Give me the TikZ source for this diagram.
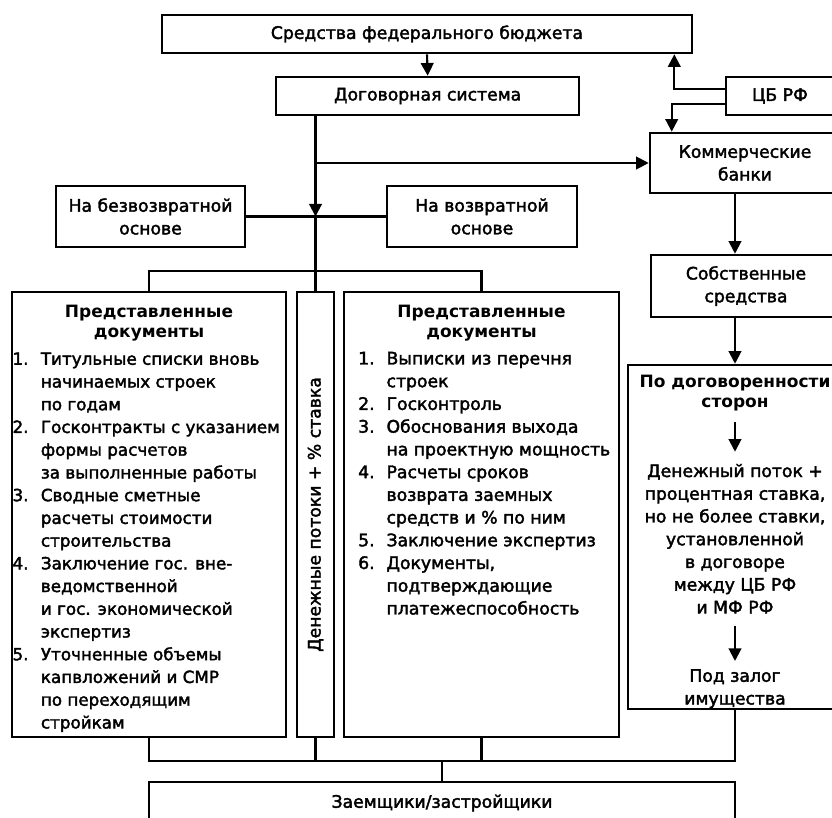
\documentclass[tikz,border=0pt]{standalone}
\usepackage{fontspec}
\setmainfont{DejaVu Sans}
\newfontfamily\fnmedium{DejaVu Sans}[FakeBold=2.2]
\usetikzlibrary{arrows.meta}
\usetikzlibrary{calc}
\newcommand{\fnfont}{\fontsize{14.7}{19.4}\selectfont\fnmedium}
\newcommand{\fnsmall}{\fontsize{14.3}{19.4}\selectfont\fnmedium}
\newcommand{\fnbold}{\fontsize{14.5}{17}\selectfont\bfseries}
\newcommand{\fnnum}[1]{\makebox[0.85cm][l]{#1}}
\newcommand{\fnind}{\hspace*{0.85cm}}
\tikzset{
  fnbox/.style={
    draw, line width=2.2pt, inner sep=0pt, align=center, font=\fnfont},
  fnline/.style={draw, line width=1.8pt},
  fnarrow/.style={fnline, -{Triangle[length=0.38cm, width=0.38cm]}},
  fnhead/.style={font=\fnbold, align=center, inner sep=0pt},
  fnlist/.style={font=\fnfont, align=left, inner sep=0pt, anchor=north west},
  fntext/.style={font=\fnfont, align=center, inner sep=0pt},
  fnstage/.style={fntext, inner ysep=0.36cm},
}

\begin{document}
\begin{tikzpicture}[x=1cm, y=1cm]
\useasboundingbox (0, 0) rectangle (24.96, -24.54);

% Upper row.
\node[fnbox, minimum width=15.9cm, minimum height=1.14cm]
  (budget) at (12.81, -1.02) {Средства федерального бюджета};
\node[fnbox, minimum width=9.09cm, minimum height=1.14cm]
  (contract) at (12.83, -2.88) {Договорная система};
\node[fnbox, minimum width=3.24cm, minimum height=1.14cm]
  (cbrf) at (23.4, -2.88) {ЦБ РФ};
\node[fnbox, minimum width=5.7cm, minimum height=1.8cm]
  (banks) at (22.35, -4.89) {Коммерческие\\банки};
\node[fnbox, minimum width=5.67cm, minimum height=1.83cm]
  (grant) at (4.515, -6.495) {На безвозвратной\\основе};
\node[fnbox, minimum width=5.7cm, minimum height=1.83cm]
  (loan) at (14.46, -6.495) {На возвратной\\основе};
\node[fnbox, minimum width=5.7cm, minimum height=1.86cm]
  (own) at (22.38, -8.58) {Собственные\\средства};

% Document columns.
\node[fnbox, minimum width=8.22cm, minimum height=13.35cm]
  (docsgrant) at (4.47, -15.435) {};
\node[fnbox, minimum width=1.11cm, minimum height=13.35cm]
  (flow) at (9.465, -15.435) {};
\node[fnbox, minimum width=8.25cm, minimum height=13.35cm]
  (docsloan) at (14.445, -15.435) {};
\node[fnbox, minimum width=6.42cm, minimum height=10.32cm]
  (terms) at (22.05, -16.11) {};

\node[fnhead] (docsgranttitle) at (4.47, -9.7)
  {Представленные\\документы};
\node[fnlist, font=\fnsmall] (docsgrantlist) at (0.37, -10.57)
  {\fnnum{1.}Титульные списки вновь\\
   \fnind начинаемых строек\\
   \fnind по годам\\
   \fnnum{2.}Госконтракты с указанием\\
   \fnind формы расчетов\\
   \fnind за выполненные работы\\
   \fnnum{3.}Сводные сметные\\
   \fnind расчеты стоимости\\
   \fnind строительства\\
   \fnnum{4.}Заключение гос. вне-\\
   \fnind ведомственной\\
   \fnind и гос. экономической\\
   \fnind экспертиз\\
   \fnnum{5.}Уточненные объемы\\
   \fnind капвложений и СМР\\
   \fnind по переходящим\\
   \fnind стройкам};

\node[fntext, rotate=90] (flowlabel) at (flow.center)
  {Денежные потоки + \% ставка};

\node[fnhead] (docsloantitle) at (14.445, -9.7)
  {Представленные\\документы};
\node[fnlist] (docsloanlist) at (10.74, -10.55)
  {\fnnum{1.}Выписки из перечня\\
   \fnind строек\\
   \fnnum{2.}Госконтроль\\
   \fnnum{3.}Обоснования выхода\\
   \fnind на проектную мощность\\
   \fnnum{4.}Расчеты сроков\\
   \fnind возврата заемных\\
   \fnind средств и \% по ним\\
   \fnnum{5.}Заключение экспертиз\\
   \fnnum{6.}Документы,\\
   \fnind подтверждающие\\
   \fnind платежеспособность};

\node[fnhead, inner ysep=0.33cm] (termstitle) at (22.05, -11.78)
  {По договоренности\\сторон};
\node[fnstage] (termsflow) at (22.05, -16.16)
  {Денежный поток +\\процентная ставка,\\но не более ставки,\\
   установленной\\в договоре\\между ЦБ РФ\\и МФ РФ};
\node[fnstage, inner ysep=0.24cm] (pledge) at (22.05, -20.66)
  {Под залог\\имущества};

\node[fnbox, minimum width=17.58cm, minimum height=1.26cm]
  (borrowers) at (13.26, -24.09) {Заемщики/застройщики};

% Connectors at the top.
\draw[fnarrow] (budget.south) -- (contract.north);
\draw[fnarrow] ([yshift=0.21cm]cbrf.west)
  -| ([xshift=-0.57cm]budget.south east);
\draw[fnarrow] ([yshift=-0.24cm]cbrf.west)
  -| ([xshift=0.69cm]banks.north west);
\coordinate (split) at (flow.north |- grant.east);
\draw[fnline] (grant.east) -- (loan.west);
\draw[fnarrow] (contract.south -| flow.north) |- (banks.west);
\draw[fnarrow] (contract.south -| flow.north) -- (split);
\draw[fnline] (split) -- (flow.north);
\draw[fnline] (docsgrant.north) -- ++(0, 0.6) -| (docsloan.north);

% Right column.
\draw[fnarrow] (banks.south -| terms.north) -- (own.north -| terms.north);
\draw[fnarrow] (own.south -| terms.north) -- (terms.north);
\draw[fnarrow] (termstitle.south) -- (termsflow.north);
\draw[fnarrow] (termsflow.south) -- (pledge.north);

% Joining at the bottom.
\coordinate (join) at ($(docsgrant.south) + (0, -0.69)$);
\draw[fnline] (docsgrant.south) -- (join) -| (terms.south);
\draw[fnline] (flow.south) -- (flow.south |- join);
\draw[fnline] (docsloan.south) -- (docsloan.south |- join);
\draw[fnline] (borrowers.north) -- (borrowers.north |- join);

\end{tikzpicture}
\end{document}
